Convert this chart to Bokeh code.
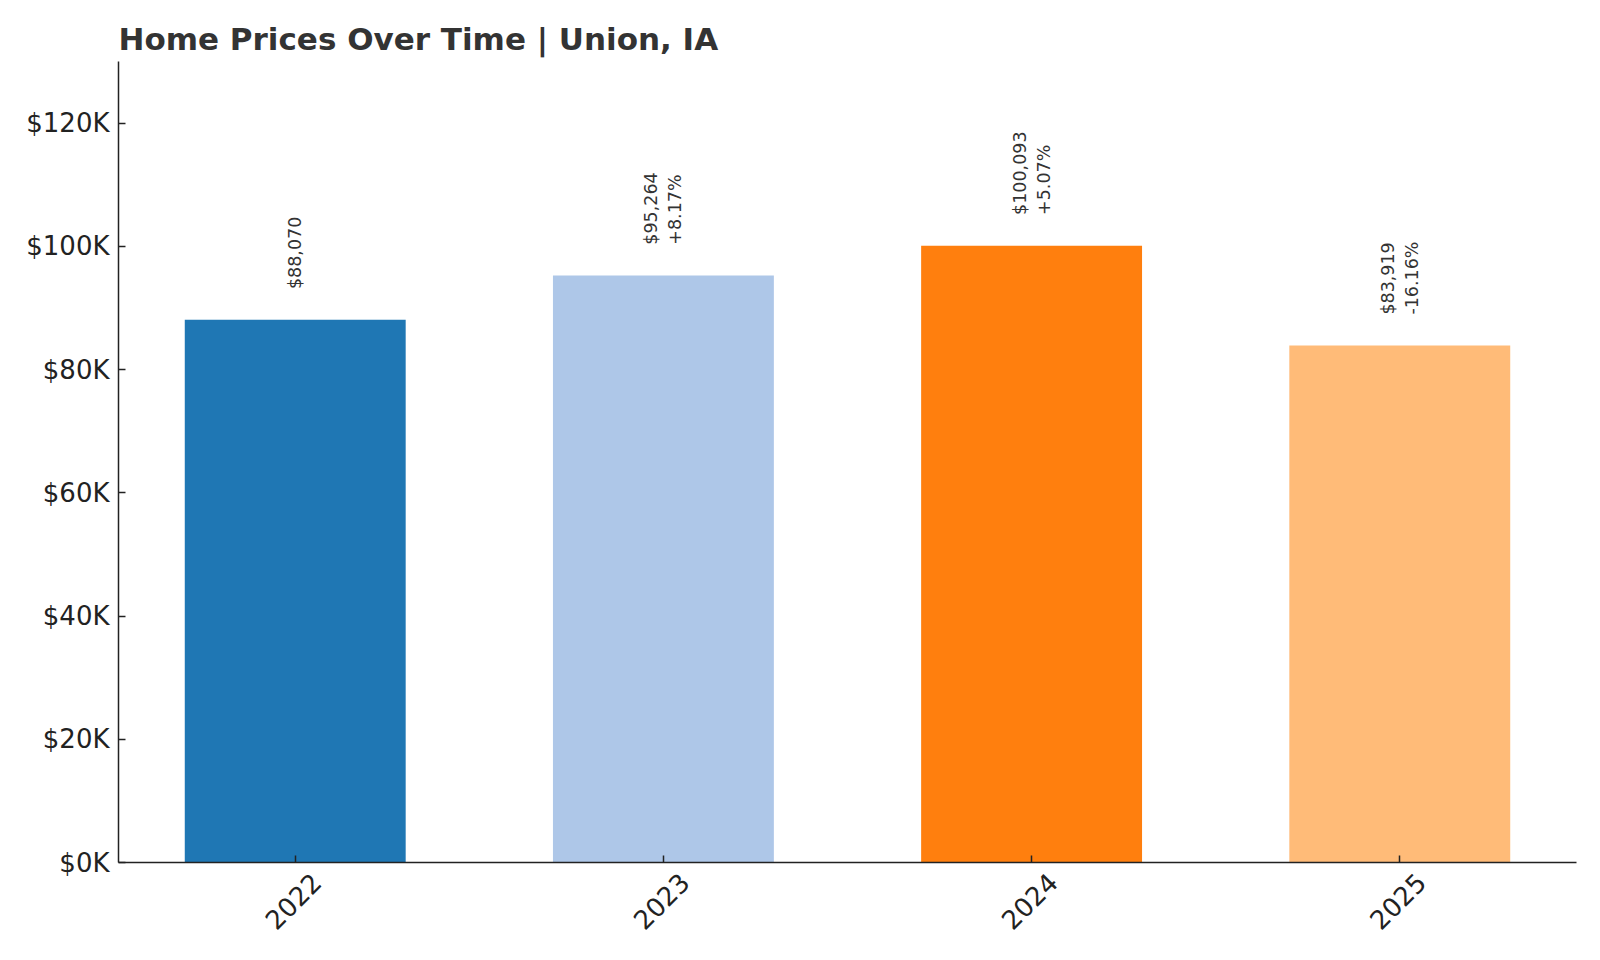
import math
from bokeh.plotting import figure
from bokeh.models import ColumnDataSource, FixedTicker, Range1d, LinearAxis
from bokeh.core.properties import value
from bokeh.embed import file_html
from bokeh.resources import INLINE

# ---- data ----
years = ["2022", "2023", "2024", "2025"]
prices = [88070, 95264, 100093, 83919]
colors = ["#1f77b4", "#aec7e8", "#ff7f0e", "#ffbb78"]
y_ticks = [0, 20000, 40000, 60000, 80000, 100000, 120000]
y_tick_labels = ["$0K", "$20K", "$40K", "$60K", "$80K", "$100K", "$120K"]

FONT = "DejaVu Sans"

idx = list(range(len(years)))
labels = []
for i, v in enumerate(prices):
    s = f"${v:,}"
    if i > 0:
        pct = (v - prices[i - 1]) / prices[i - 1] * 100
        s += f"\n{pct:+.2f}%"
    labels.append(s)
label_y = [v + 5000 for v in prices]

src = ColumnDataSource(dict(x=idx, top=prices, color=colors, ly=label_y, label=labels))

X0, X1 = -0.48, 3.48
FRAME_W = 1458
# rotated tick labels in Bokeh end at the tick; shift them so they are centred on it
shift = 21 / (FRAME_W / (X1 - X0))

p = figure(
    frame_width=FRAME_W, frame_height=801,
    min_border_left=118, min_border_right=16, min_border_top=61, min_border_bottom=90,
    x_range=Range1d(X0, X1), y_range=Range1d(0, 130000),
    output_backend="svg", toolbar_location=None,
    title="Home Prices Over Time | Union, IA",
)
p.extra_x_ranges = {"labels": Range1d(X0 - shift, X1 - shift)}

p.title.text_font = FONT
p.title.text_font_size = "31px"
p.title.text_font_style = "bold"
p.title.text_color = "#333333"
p.title.align = "left"
p.title.offset = 0

p.vbar(x="x", top="top", width=0.6, fill_color="color", line_color=None, source=src)

p.text(x="x", y="ly", text="label", source=src, angle=math.pi / 2,
       text_align="left", text_baseline="middle",
       text_font=value(FONT), text_font_size="17.5px", text_color="#333333",
       text_line_height=1.2)

p.outline_line_color = None
p.xgrid.visible = False
p.ygrid.visible = False
p.background_fill_color = "white"
p.border_fill_color = "white"

for ax in (p.xaxis[0], p.yaxis[0]):
    ax.axis_line_color = "#222222"
    ax.axis_line_width = 1.5
    ax.major_tick_line_color = "#222222"
    ax.major_tick_line_width = 1.5
    ax.major_tick_in = 7
    ax.major_tick_out = 0
    ax.minor_tick_line_color = None
    ax.major_label_text_font = FONT
    ax.major_label_text_font_size = "26px"
    ax.major_label_text_color = "#222222"

p.yaxis[0].ticker = FixedTicker(ticks=y_ticks)
p.yaxis[0].major_label_overrides = {t: l for t, l in zip(y_ticks, y_tick_labels)}
p.yaxis[0].major_label_standoff = 9

p.xaxis[0].ticker = FixedTicker(ticks=idx)
p.xaxis[0].major_label_overrides = {i: "" for i in idx}
p.xaxis[0].major_label_text_font_size = "1px"
p.xaxis[0].major_label_standoff = 0

label_axis = LinearAxis(x_range_name="labels", ticker=FixedTicker(ticks=idx),
                        major_label_overrides={i: y for i, y in zip(idx, years)},
                        major_label_orientation=math.pi / 4,
                        major_label_standoff=15,
                        axis_line_color=None, major_tick_line_color=None,
                        minor_tick_line_color=None, major_tick_in=0, major_tick_out=0,
                        major_label_text_font=FONT, major_label_text_font_size="26px",
                        major_label_text_color="#222222")
p.add_layout(label_axis, "below")

open("out.html", "w").write(file_html(p, INLINE))
